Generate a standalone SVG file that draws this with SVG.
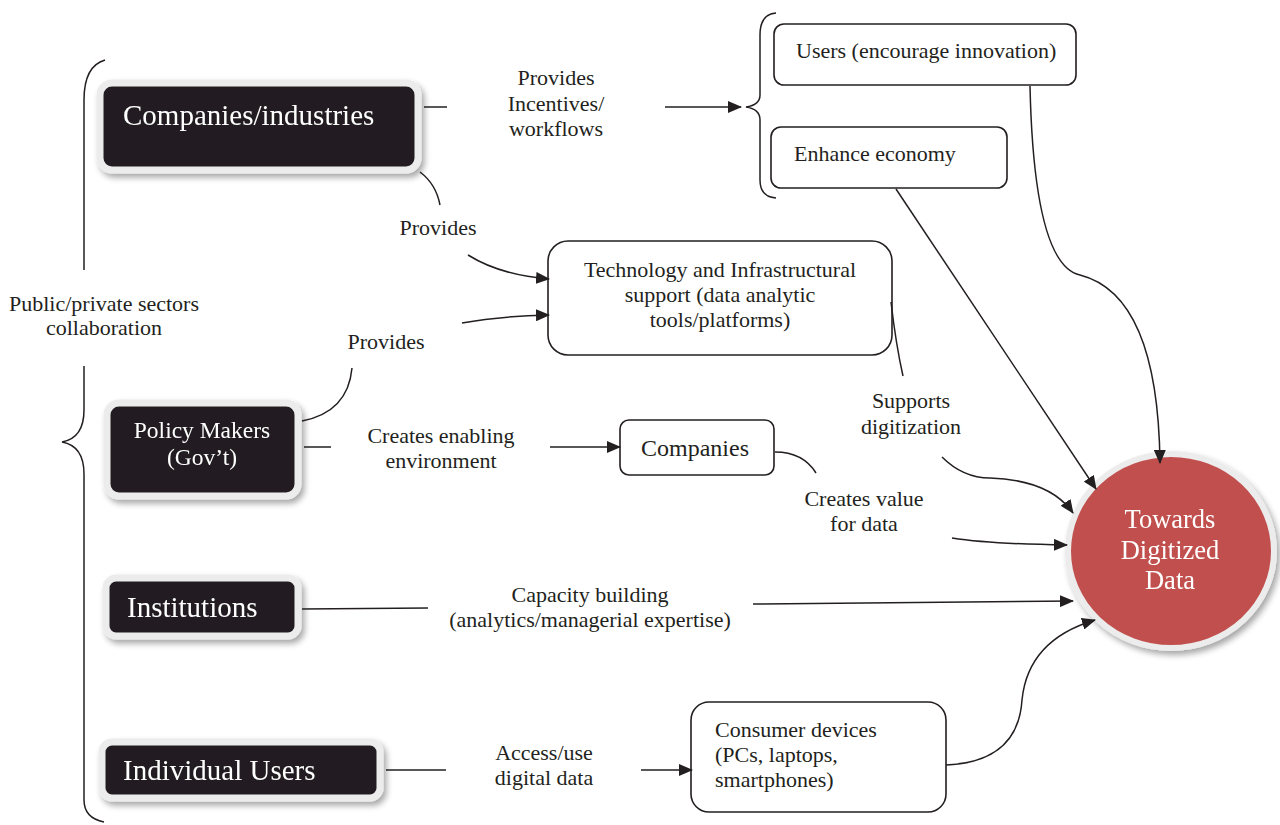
<svg xmlns="http://www.w3.org/2000/svg" width="1280" height="825" viewBox="0 0 1280 825">
<defs>
<marker id="ah" markerWidth="14" markerHeight="12" refX="13" refY="6" orient="auto" markerUnits="userSpaceOnUse">
<path d="M0,0 L14,6 L0,12 Z" fill="#231f20"/>
</marker>
<filter id="sh" x="-10%" y="-20%" width="125%" height="150%">
<feGaussianBlur in="SourceAlpha" stdDeviation="3"/>
<feOffset dx="3" dy="4" result="b"/>
<feComponentTransfer><feFuncA type="linear" slope="0.35"/></feComponentTransfer>
<feMerge><feMergeNode/><feMergeNode in="SourceGraphic"/></feMerge>
</filter>
</defs>
<style>
text{font-family:"Liberation Serif","Times New Roman",serif;fill:#231f20}
.t{font-size:22px}
.c{text-anchor:middle}
.w{fill:#ffffff}
.dark{fill:#231f20;stroke:#ececec;stroke-width:7}
.box{fill:#ffffff;stroke:#231f20;stroke-width:1.6}
.ln{fill:none;stroke:#231f20;stroke-width:1.5}
.ar{fill:none;stroke:#231f20;stroke-width:1.5;marker-end:url(#ah)}
</style>
<rect width="1280" height="825" fill="#ffffff"/>

<g id="public-private">
<text class="t c" x="104" y="311">Public/private sectors</text>
<text class="t c" x="104" y="335">collaboration</text>
</g>

<g id="companies-industries" filter="url(#sh)">
<rect class="dark" x="100" y="83" width="318" height="87" rx="12"/>
<text class="w" x="123" y="125" font-size="29">Companies/industries</text>
</g>

<g id="label-incentives">
<text class="t c" x="556" y="85">Provides</text>
<text class="t c" x="556" y="111">Incentives/</text>
<text class="t c" x="556" y="136">workflows</text>
</g>

<g id="users-innovation">
<rect class="box" x="774" y="24" width="302" height="61" rx="10"/>
<text class="t" x="796" y="58">Users (encourage innovation)</text>
</g>

<g id="enhance-economy">
<rect class="box" x="771" y="127" width="236" height="61" rx="10"/>
<text class="t" x="794" y="161">Enhance economy</text>
</g>

<g id="label-provides-1"><text class="t c" x="438" y="235">Provides</text></g>
<g id="label-provides-2"><text class="t c" x="386" y="349">Provides</text></g>

<g id="technology">
<rect class="box" x="548" y="241" width="344" height="114" rx="20"/>
<text class="t c" x="720" y="277">Technology and Infrastructural</text>
<text class="t c" x="720" y="302">support (data analytic</text>
<text class="t c" x="720" y="327">tools/platforms)</text>
</g>

<g id="policy-makers" filter="url(#sh)">
<rect class="dark" x="107" y="403" width="191" height="93" rx="12"/>
<text class="w c" x="202" y="438" font-size="23.5">Policy Makers</text>
<text class="w c" x="202" y="465" font-size="23.5">(Gov’t)</text>
</g>

<g id="label-enabling">
<text class="t c" x="441" y="443">Creates enabling</text>
<text class="t c" x="441" y="468">environment</text>
</g>

<g id="companies">
<rect class="box" x="620" y="420" width="154" height="55" rx="9"/>
<text class="c" x="695" y="456" font-size="24">Companies</text>
</g>

<g id="label-supports">
<text class="t c" x="911" y="408">Supports</text>
<text class="t c" x="911" y="434">digitization</text>
</g>

<g id="label-value">
<text class="t c" x="864" y="506">Creates value</text>
<text class="t c" x="864" y="531">for data</text>
</g>

<g id="towards-digitized-data" filter="url(#sh)">
<ellipse cx="1171" cy="551" rx="103" ry="97" fill="#c0504d" stroke="#ececec" stroke-width="6"/>
<text class="w c" x="1170" y="528" font-size="26.5">Towards</text>
<text class="w c" x="1170" y="559" font-size="26.5">Digitized</text>
<text class="w c" x="1170" y="589" font-size="26.5">Data</text>
</g>

<g id="institutions" filter="url(#sh)">
<rect class="dark" x="106" y="578" width="192" height="58" rx="10"/>
<text class="w" x="127" y="617" font-size="29">Institutions</text>
</g>

<g id="label-capacity">
<text class="t c" x="590" y="602">Capacity building</text>
<text class="t c" x="590" y="627">(analytics/managerial expertise)</text>
</g>

<g id="individual-users" filter="url(#sh)">
<rect class="dark" x="102" y="742" width="278" height="56" rx="10"/>
<text class="w" x="123" y="780" font-size="29">Individual Users</text>
</g>

<g id="label-access">
<text class="t c" x="544" y="760">Access/use</text>
<text class="t c" x="544" y="785">digital data</text>
</g>

<g id="consumer-devices">
<rect class="box" x="691" y="702" width="255" height="110" rx="18"/>
<text class="t" x="715" y="737">Consumer devices</text>
<text class="t" x="715" y="762">(PCs, laptops,</text>
<text class="t" x="715" y="787">smartphones)</text>
</g>

<g id="connectors">
<path class="ln" d="M105,60 Q84,66 84,100 L84,270"/>
<path class="ln" d="M84,366 L84,410 Q84,438 62,442 Q84,446 84,474 L84,800 Q84,818 104,822"/>
<path class="ln" d="M424,107 L447,107"/>
<path class="ar" d="M665,107 L741,107"/>
<path class="ln" d="M776,13 Q760,14 760,35 L760,95 Q760,105 746,107 Q760,109 760,120 L760,180 Q760,197 776,198"/>
<path class="ln" d="M420,172 Q436,184 440,205"/>
<path class="ar" d="M468,255 Q500,275 549,279"/>
<path class="ln" d="M302,421 Q348,412 352,368"/>
<path class="ar" d="M462,323 Q500,316 549,315"/>
<path class="ln" d="M304,447 L331,447"/>
<path class="ar" d="M550,447 L620,447"/>
<path class="ln" d="M775,452 Q803,452 816,473"/>
<path class="ar" d="M952,538 Q990,544 1067,545"/>
<path class="ln" d="M891,302 Q896,345 903,376"/>
<path class="ar" d="M942,457 Q963,478 990,478 Q1050,480 1073,513"/>
<path class="ar" d="M896,189 L1096,489"/>
<path class="ar" d="M1030,86 Q1034,265 1080,275 Q1158,295 1160,463"/>
<path class="ln" d="M302,609 L428,608"/>
<path class="ar" d="M753,604 L1073,601"/>
<path class="ln" d="M386,770 L446,770"/>
<path class="ar" d="M641,770 L692,770"/>
<path class="ar" d="M946,765 Q1018,762 1022,700 Q1028,640 1095,620"/>
</g>
</svg>
